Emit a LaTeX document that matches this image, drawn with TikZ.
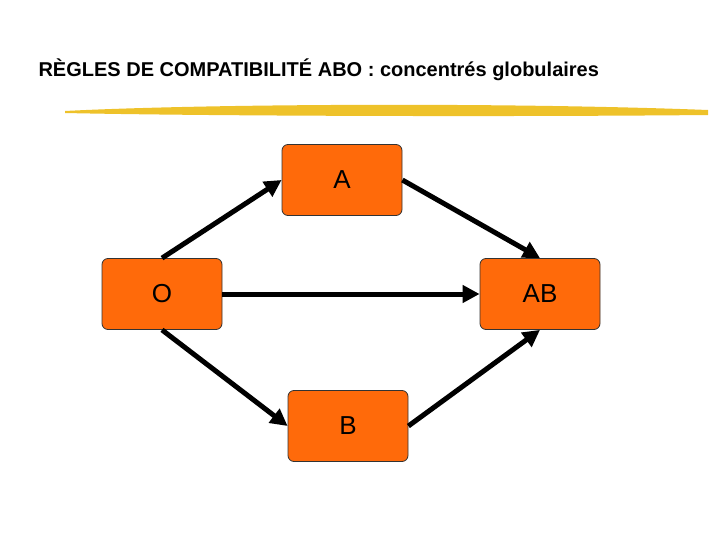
\documentclass[tikz,border=0pt]{standalone}
\usepackage{fontspec}
\setmainfont{Liberation Sans}
\usetikzlibrary{arrows.meta}
\definecolor{boxorange}{HTML}{FF6A0A}
\definecolor{strokeyellow}{HTML}{EEC22A}
\tikzset{
  groupbox/.style={draw=black!80, fill=boxorange, rounded corners=6pt, minimum width=120pt, minimum height=71pt, line width=0.8pt},
  compat/.style={line width=5pt, -{Triangle[length=17pt,width=17pt]}}
}
\begin{document}
\begin{tikzpicture}[x=1pt,y=-1pt]
\useasboundingbox (0,0) rectangle (720,540);
\node [anchor=west, font=\bfseries\fontsize{20}{22}\selectfont] (title) at (35,70) {RÈGLES DE COMPATIBILITÉ ABO : concentrés globulaires};
% brush stroke under the title
\fill [strokeyellow] (65,111) .. controls (200,104) and (500,102) .. (708,110) -- (708,115) .. controls (500,117) and (200,116) .. (65,113) -- cycle;
\node [groupbox] (A) at (342,180) {};
\node [groupbox] (O) at (162,294) {};
\node [groupbox] (AB) at (540,294) {};
\node [groupbox] (B) at (348,426) {};
\node [font=\fontsize{26}{28}\selectfont] at (A.center) {A};
\node [font=\fontsize{26}{28}\selectfont] at (O.center) {O};
\node [font=\fontsize{26}{28}\selectfont] at (AB.center) {AB};
\node [font=\fontsize{26}{28}\selectfont] at (B.center) {B};
\draw [compat] (O.north) -- (A.west);
\draw [compat] (A.east) -- (AB.north);
\draw [compat] (O.east) -- (AB.west);
\draw [compat] (O.south) -- (B.west);
\draw [compat] (B.east) -- (AB.south);
\end{tikzpicture}
\end{document}
